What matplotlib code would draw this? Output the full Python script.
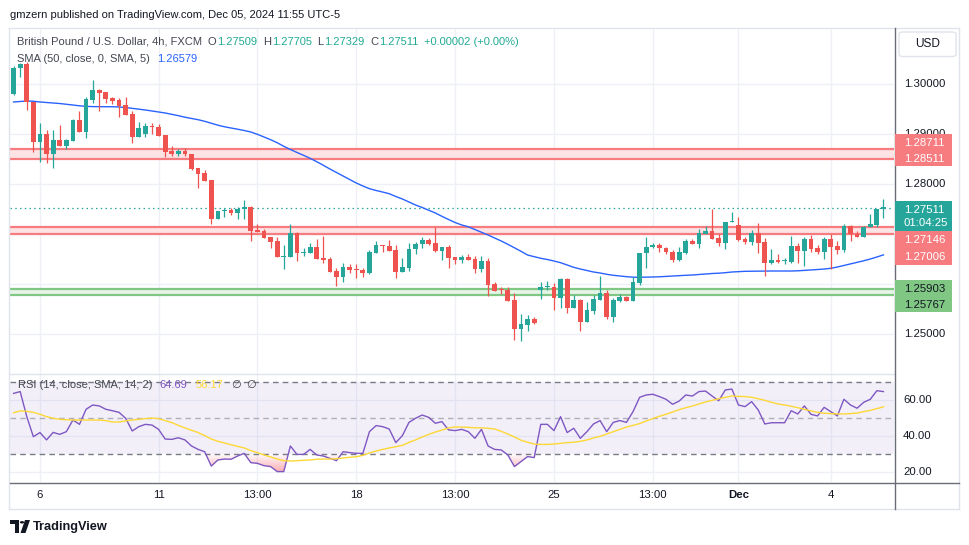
import matplotlib
matplotlib.use("Agg")
import matplotlib.pyplot as plt
import numpy as np
from matplotlib.patches import Rectangle, FancyBboxPatch, Polygon, Circle
from matplotlib.lines import Line2D
from matplotlib.colors import to_rgb
from matplotlib.path import Path

plt.rcParams['font.family'] = ['Liberation Sans', 'DejaVu Sans']

# ---------------- data ----------------
opens = [1.29803, 1.30325, 1.30406, 1.29649, 1.28851, 1.29006, 1.28604, 1.28886, 1.28771, 1.28872,
         1.29287, 1.29052, 1.29689, 1.29890, 1.29855, 1.29735, 1.29689, 1.29588, 1.29402, 1.28952,
         1.29006, 1.29167, 1.29141, 1.28986, 1.28665, 1.28604, 1.28665, 1.28604, 1.28317, 1.28217,
         1.28082, 1.27299, 1.27460, 1.27486, 1.27410, 1.27496, 1.27540, 1.27078, 1.27058, 1.26932,
         1.26857, 1.26542, 1.26542, 1.27012, 1.26623, 1.26623, 1.26731, 1.26516, 1.26496, 1.26255,
         1.26141, 1.26341, 1.26295, 1.26275, 1.26221, 1.26623, 1.26771, 1.26757, 1.26677, 1.26241,
         1.26321, 1.26691, 1.26791, 1.26878, 1.26811, 1.26663, 1.26731, 1.26536, 1.26482, 1.26536,
         1.26496, 1.26301, 1.26456, 1.25994, 1.25880, 1.25874, 1.25673, 1.25090, 1.25171, 1.25291,
         1.25880, 1.25928, 1.25934, 1.25719, 1.26094, 1.25518, 1.25673, 1.25237, 1.25458, 1.25673,
         1.25807, 1.25337, 1.25659, 1.25739, 1.25659, 1.26020, 1.26611, 1.26731, 1.26777, 1.26723,
         1.26631, 1.26476, 1.26623, 1.26857, 1.26803, 1.27004, 1.27058, 1.26918, 1.26823, 1.27233,
         1.27173, 1.26898, 1.26843, 1.27012, 1.26837, 1.26422, 1.26476, 1.26456, 1.26442, 1.26757,
         1.26663, 1.26898, 1.26717, 1.26643, 1.26898, 1.26757, 1.26683, 1.27159, 1.27004, 1.26938,
         1.27133, 1.27185, 1.27509]
highs = [1.30371, 1.30432, 1.30452, 1.29649, 1.29221, 1.29086, 1.29086, 1.29187, 1.28906, 1.29317,
         1.29468, 1.29743, 1.30090, 1.29900, 1.29859, 1.29755, 1.29735, 1.29743, 1.29468, 1.29241,
         1.29233, 1.29221, 1.29201, 1.28986, 1.28765, 1.28699, 1.28719, 1.28604, 1.28317, 1.28283,
         1.28092, 1.27460, 1.27514, 1.27526, 1.27534, 1.27681, 1.27560, 1.27199, 1.27098, 1.26932,
         1.26932, 1.26777, 1.27199, 1.27038, 1.26723, 1.26811, 1.26898, 1.26958, 1.26542, 1.26309,
         1.26410, 1.26390, 1.26390, 1.26309, 1.26677, 1.26857, 1.26771, 1.26878, 1.26777, 1.26522,
         1.26811, 1.26843, 1.26944, 1.26912, 1.27133, 1.26731, 1.26777, 1.26536, 1.26576, 1.26596,
         1.26556, 1.26556, 1.26522, 1.26028, 1.25940, 1.25928, 1.25807, 1.25392, 1.25372, 1.25325,
         1.26040, 1.26054, 1.26020, 1.26121, 1.26108, 1.25773, 1.25687, 1.25627, 1.25773, 1.26161,
         1.25874, 1.25719, 1.25793, 1.25759, 1.26141, 1.26617, 1.26932, 1.26823, 1.26811, 1.26743,
         1.26677, 1.26731, 1.26898, 1.26898, 1.27092, 1.27159, 1.27494, 1.26998, 1.27233, 1.27446,
         1.27333, 1.26944, 1.27078, 1.27225, 1.26912, 1.26697, 1.26596, 1.26522, 1.26958, 1.26811,
         1.26944, 1.26978, 1.26771, 1.26932, 1.26998, 1.26857, 1.27199, 1.27173, 1.27058, 1.27159,
         1.27400, 1.27500, 1.27705]
lows = [1.29789, 1.30157, 1.29478, 1.28639, 1.28450, 1.28418, 1.28329, 1.28771, 1.28699, 1.28872,
        1.29052, 1.28920, 1.29635, 1.29474, 1.29635, 1.29608, 1.29353, 1.29388, 1.28831, 1.28952,
        1.28952, 1.29006, 1.28972, 1.28550, 1.28570, 1.28570, 1.28564, 1.28283, 1.27928, 1.28062,
        1.27193, 1.27299, 1.27345, 1.27380, 1.27293, 1.27299, 1.26863, 1.27044, 1.26924, 1.26723,
        1.26542, 1.26289, 1.26542, 1.26462, 1.26556, 1.26623, 1.26490, 1.26410, 1.26241, 1.25960,
        1.26040, 1.26209, 1.26121, 1.26141, 1.26189, 1.26623, 1.26643, 1.26663, 1.26121, 1.26241,
        1.26255, 1.26590, 1.26711, 1.26777, 1.26643, 1.26476, 1.26309, 1.26396, 1.26422, 1.26482,
        1.26221, 1.26241, 1.25759, 1.25860, 1.25793, 1.25659, 1.24870, 1.24856, 1.25050, 1.25191,
        1.25693, 1.25874, 1.25472, 1.25518, 1.25418, 1.25518, 1.25056, 1.25237, 1.25386, 1.25673,
        1.25291, 1.25237, 1.25639, 1.25659, 1.25659, 1.25974, 1.26321, 1.26711, 1.26643, 1.26590,
        1.26442, 1.26462, 1.26602, 1.26803, 1.26723, 1.27004, 1.26904, 1.26763, 1.26703, 1.27233,
        1.26857, 1.26803, 1.26777, 1.26623, 1.26161, 1.26396, 1.26422, 1.26390, 1.26422, 1.26422,
        1.26355, 1.26643, 1.26590, 1.26496, 1.26289, 1.26602, 1.26631, 1.26863, 1.26938, 1.26938,
        1.27133, 1.27145, 1.27329]
closes = [1.30325, 1.30406, 1.29649, 1.28851, 1.29006, 1.28604, 1.28886, 1.28771, 1.28886, 1.29287,
          1.29052, 1.29709, 1.29890, 1.29835, 1.29715, 1.29675, 1.29568, 1.29388, 1.28952, 1.29133,
          1.29167, 1.29141, 1.28972, 1.28651, 1.28610, 1.28665, 1.28598, 1.28303, 1.28209, 1.28062,
          1.27299, 1.27460, 1.27486, 1.27410, 1.27496, 1.27540, 1.27064, 1.27044, 1.26924, 1.26843,
          1.26542, 1.26556, 1.27012, 1.26623, 1.26637, 1.26731, 1.26502, 1.26476, 1.26241, 1.26141,
          1.26329, 1.26275, 1.26281, 1.26221, 1.26631, 1.26777, 1.26757, 1.26663, 1.26241, 1.26329,
          1.26691, 1.26797, 1.26878, 1.26797, 1.26663, 1.26731, 1.26522, 1.26482, 1.26536, 1.26482,
          1.26301, 1.26456, 1.25974, 1.25860, 1.25868, 1.25659, 1.25090, 1.25191, 1.25291, 1.25205,
          1.25934, 1.25940, 1.25719, 1.26094, 1.25518, 1.25673, 1.25237, 1.25472, 1.25693, 1.25807,
          1.25337, 1.25673, 1.25739, 1.25659, 1.26028, 1.26617, 1.26731, 1.26777, 1.26711, 1.26631,
          1.26476, 1.26631, 1.26857, 1.26803, 1.27012, 1.27058, 1.26904, 1.26823, 1.27233, 1.27265,
          1.26878, 1.26843, 1.27012, 1.26823, 1.26422, 1.26476, 1.26442, 1.26470, 1.26757, 1.26663,
          1.26898, 1.26697, 1.26643, 1.26898, 1.26743, 1.26683, 1.27159, 1.26992, 1.26938, 1.27133,
          1.27199, 1.27500, 1.27511]
sma50 = [1.29649, 1.29659, 1.29669, 1.29663, 1.29649, 1.29639, 1.29629, 1.29618, 1.29604, 1.29588,
         1.29572, 1.29562, 1.29556, 1.29554, 1.29554, 1.29554, 1.29548, 1.29538, 1.29522, 1.29504,
         1.29488, 1.29468, 1.29448, 1.29428, 1.29402, 1.29374, 1.29343, 1.29317, 1.29293, 1.29261,
         1.29221, 1.29183, 1.29151, 1.29127, 1.29102, 1.29076, 1.29046, 1.29000, 1.28946, 1.28892,
         1.28831, 1.28759, 1.28695, 1.28635, 1.28578, 1.28518, 1.28450, 1.28378, 1.28303, 1.28233,
         1.28163, 1.28092, 1.28022, 1.27962, 1.27908, 1.27872, 1.27841, 1.27807, 1.27751, 1.27701,
         1.27641, 1.27580, 1.27530, 1.27474, 1.27420, 1.27353, 1.27289, 1.27229, 1.27179, 1.27143,
         1.27088, 1.27032, 1.26978, 1.26918, 1.26857, 1.26791, 1.26721, 1.26651, 1.26576, 1.26542,
         1.26510, 1.26486, 1.26456, 1.26422, 1.26376, 1.26329, 1.26295, 1.26265, 1.26235, 1.26215,
         1.26189, 1.26169, 1.26155, 1.26141, 1.26131, 1.26129, 1.26131, 1.26135, 1.26139, 1.26147,
         1.26155, 1.26161, 1.26169, 1.26175, 1.26185, 1.26195, 1.26205, 1.26211, 1.26221, 1.26235,
         1.26243, 1.26249, 1.26251, 1.26253, 1.26255, 1.26255, 1.26255, 1.26255, 1.26255, 1.26259,
         1.26267, 1.26275, 1.26285, 1.26295, 1.26309, 1.26335, 1.26366, 1.26396, 1.26426, 1.26460,
         1.26496, 1.26536, 1.26579]
rsi = [63.7, 64.7, 50.7, 39.5, 41.8, 37.7, 41.9, 40.8, 42.3, 48.8,
       46.4, 54.8, 57.2, 56.7, 54.8, 54.0, 53.1, 49.8, 42.7, 45.1,
       46.4, 46.0, 43.6, 38.2, 38.0, 38.9, 37.7, 34.3, 32.4, 31.1,
       23.1, 26.5, 27.0, 26.9, 28.7, 30.2, 25.0, 24.6, 23.3, 22.8,
       20.0, 20.0, 34.3, 29.6, 29.6, 32.4, 29.3, 28.7, 27.4, 26.1,
       31.1, 30.6, 30.2, 30.2, 42.3, 45.7, 45.1, 43.8, 36.2, 40.1,
       47.5, 49.8, 51.6, 50.3, 47.0, 47.9, 43.3, 42.9, 43.6, 42.3,
       38.6, 43.6, 34.3, 32.4, 32.1, 29.3, 22.8, 25.6, 28.4, 27.8,
       46.4, 46.4, 42.9, 50.7, 41.8, 44.2, 38.6, 42.3, 46.6, 48.5,
       42.3, 47.5, 48.5, 47.5, 53.5, 61.5, 62.8, 63.2, 61.9, 60.4,
       57.6, 59.4, 62.8, 62.2, 64.7, 65.0, 62.2, 59.6, 65.6, 66.1,
       57.2, 56.3, 59.1, 54.4, 46.6, 47.3, 47.3, 47.3, 54.0, 52.2,
       56.7, 52.0, 51.1, 55.9, 53.5, 51.1, 60.4, 57.2, 55.4, 58.7,
       60.4, 65.2, 64.69]
rsi_ma = [52.9, 53.9, 53.7, 53.1, 52.0, 50.7, 49.8, 49.2, 49.0, 48.8,
          48.8, 48.8, 48.8, 48.8, 48.5, 47.7, 47.7, 48.3, 48.8, 49.2,
          49.6, 49.9, 49.6, 48.5, 47.4, 45.8, 44.4, 43.1, 41.8, 40.1,
          38.2, 36.9, 36.0, 35.0, 34.1, 33.2, 31.7, 30.6, 29.3, 28.2,
          27.0, 26.1, 25.9, 26.1, 26.3, 26.5, 26.9, 27.0, 27.0, 27.2,
          27.6, 28.0, 28.3, 29.1, 30.4, 31.5, 32.4, 33.2, 33.9, 34.7,
          36.3, 37.7, 39.3, 40.8, 42.1, 43.2, 44.4, 44.9, 44.9, 44.7,
          44.5, 44.4, 44.2, 43.8, 42.5, 41.0, 39.3, 37.5, 36.4, 35.4,
          35.2, 35.2, 35.4, 35.8, 36.2, 36.4, 36.9, 37.7, 38.8, 39.7,
          41.0, 42.3, 43.6, 44.9, 45.8, 46.8, 48.3, 49.6, 50.9, 52.0,
          53.3, 54.6, 55.7, 56.6, 57.8, 58.9, 59.8, 60.7, 61.5, 62.2,
          62.0, 61.9, 61.5, 60.7, 59.8, 58.7, 57.8, 57.2, 56.5, 55.7,
          54.8, 53.9, 53.1, 52.6, 52.4, 52.2, 52.2, 52.4, 52.7, 53.5,
          54.2, 55.2, 56.17]

time_tick_idx = [4, 22, 37, 52, 67, 82, 97, 110, 124]
time_tick_labels = ["6", "11", "13:00", "18", "13:00", "25", "13:00", "Dec", "4"]
price_ticks = [1.25, 1.26, 1.27, 1.28, 1.29, 1.30]
rsi_ticks = [20, 40, 60]
resist_upper = [1.28711, 1.28511]
resist_lower = [1.27146, 1.27006]
support = [1.25903, 1.25767]
last_price = 1.27511
countdown = "01:04:25"

# ---------------- layout ----------------
W, H = 970, 545
fig = plt.figure(figsize=(W / 100, H / 100), dpi=100)
fig.patch.set_facecolor('white')

def fx(px):
    return px / W

def fy(py):
    return 1 - py / H

L, R = 10, 894
T_MAIN, B_MAIN, B_RSI = 28, 373, 482

ax = fig.add_axes([fx(L), fy(B_MAIN), fx(R) - fx(L), fy(T_MAIN) - fy(B_MAIN)])
axr = fig.add_axes([fx(L), fy(B_RSI), fx(R) - fx(L), fy(B_MAIN) - fy(B_RSI)])

n = len(closes)
idx = np.arange(n)
XLIM = (-0.546, 133.6)
for a in (ax, axr):
    a.set_xlim(*XLIM)
    a.set_facecolor('none')
    for s in a.spines.values():
        s.set_visible(False)
    a.set_yticks([])
ax.set_xticks([])
ax.set_ylim(1.24207, 1.311345)
axr.set_ylim(14.19, 75.08)

GRID = '#eef0f5'
for i in time_tick_idx:
    ax.axvline(i, color=GRID, lw=1, zorder=0)
    axr.axvline(i, color=GRID, lw=1, zorder=0)
for p in price_ticks:
    ax.axhline(p, color=GRID, lw=1, zorder=0)
for v in rsi_ticks:
    axr.axhline(v, color=GRID, lw=1, zorder=0)

# bands
RED_LINE = '#f77c80'
GREEN_LINE = '#81c784'
for top, bot, lc, fc in [(resist_upper[0], resist_upper[1], RED_LINE, '#fde3e4'),
                         (resist_lower[0], resist_lower[1], RED_LINE, '#fde3e4'),
                         (support[0], support[1], GREEN_LINE, '#e6f4e7')]:
    ax.axhspan(bot, top, color=fc, lw=0, zorder=1)
    ax.axhline(top, color=lc, lw=1.6, zorder=1.5)
    ax.axhline(bot, color=lc, lw=1.6, zorder=1.5)

# current price dotted line
ax.axhline(last_price, color='#26a69a', lw=0.9, ls=(0, (1.2, 2.6)), zorder=2)

# SMA
ax.plot(idx, sma50, color='#2962ff', lw=1.0, zorder=3)

# candles
o = np.array(opens); h = np.array(highs); l = np.array(lows); c = np.array(closes)
up = c >= o
cols = np.where(up, '#26a69a', '#ef5350')
ax.vlines(idx, l, h, colors=cols, lw=0.9, zorder=4)
body_lo = np.minimum(o, c)
body_h = np.maximum(np.abs(c - o), 0.00022)
ax.bar(idx, body_h, bottom=body_lo, width=0.72, color=cols, linewidth=0, zorder=5)

# RSI pane
axr.axhspan(30, 70, color='#7e57c2', alpha=0.09, lw=0, zorder=0.5)
axr.axhline(70, color='#787b86', lw=1, ls=(0, (4, 3)), zorder=2)
axr.axhline(50, color='#787b86', lw=1, ls=(0, (4, 3)), alpha=0.55, zorder=2)
axr.axhline(30, color='#787b86', lw=1, ls=(0, (4, 3)), zorder=2)
r = np.array(rsi)
fb = axr.fill_between(idx, r, 30, where=r < 30, interpolate=True, facecolor='none', edgecolor='none')
paths = fb.get_paths()
if len(paths) > 0:
    comp = Path.make_compound_path(*paths)
    N = 256
    vals = np.linspace(30, 14, N)
    rgba = np.zeros((N, 1, 4))
    rr, gg, bb = to_rgb('#f23645')
    rgba[:, 0, 0] = rr; rgba[:, 0, 1] = gg; rgba[:, 0, 2] = bb
    rgba[:, 0, 3] = np.clip((30 - vals) / 10 * 0.40, 0, 0.5)
    im = axr.imshow(rgba, extent=(XLIM[0], XLIM[1], 14, 30), aspect='auto',
                    origin='upper', zorder=1.5, interpolation='bilinear')
    im.set_clip_path(comp, axr.transData)
axr.plot(idx, rsi, color='#7e57c2', lw=1.0, zorder=3)
axr.plot(idx, rsi_ma, color='#fdd835', lw=1.0, zorder=3)
axr.set_xlim(*XLIM)
axr.set_ylim(14.19, 75.08)

axr.set_xticks(time_tick_idx)
axr.set_xticklabels(time_tick_labels)
axr.tick_params(axis='x', length=0, pad=5.5, labelsize=8.2, colors='#131722')
for lbl in axr.get_xticklabels():
    if lbl.get_text() == 'Dec':
        lbl.set_fontweight('bold')

# ---------------- frame lines ----------------
def fline(x1, y1, x2, y2, color, lw=1.0):
    fig.add_artist(Line2D([fx(x1), fx(x2)], [fy(y1), fy(y2)], transform=fig.transFigure,
                          color=color, lw=lw, zorder=10))

FRAME = '#e0e3eb'
fline(9.5, 27.5, 959.5, 27.5, FRAME)
fline(9.5, 27.5, 9.5, 508.5, FRAME)
fline(959.5, 27.5, 959.5, 508.5, FRAME)
fline(9.5, 508.5, 959.5, 508.5, FRAME)
fline(10, 373.5, 894, 373.5, FRAME)
fline(894.5, 27.5, 894.5, 508.5, '#6a6d78')
fline(10, 482.5, 959.5, 482.5, '#6a6d78')

# ---------------- price axis labels ----------------
def disp_y(a, v):
    return a.transData.transform((0, v))[1]

TXT = '#131722'

groups = [
    ([(f"{resist_upper[0]:.5f}", resist_upper[0], 5.2), (f"{resist_upper[1]:.5f}", resist_upper[1], -0.8)],
     RED_LINE, 'white', 9.0, 6.5),
    ([(f"{last_price:.5f}", last_price, -1.1), (countdown, last_price, -14.1)], '#26a69a', 'white', 9.0, 9.0),
    ([(f"{resist_lower[0]:.5f}", resist_lower[0], -13.6), (f"{resist_lower[1]:.5f}", resist_lower[1], -23.6)],
     RED_LINE, 'white', 9.0, 8.0),
    ([(f"{support[0]:.5f}", support[0], 0.0), (f"{support[1]:.5f}", support[1], -10.0)], GREEN_LINE, TXT, 9.0, 6.5),
]
box_spans = []
for k, (items, fc, tc, pad_top, pad_bot) in enumerate(groups):
    centers = [disp_y(ax, v) + off for (_, v, off) in items]
    top = centers[0] + pad_top
    bot = centers[-1] - pad_bot
    box_spans.append((bot, top))
    fig.add_artist(Rectangle((fx(894.7), bot / H), 57 / W, (top - bot) / H,
                             transform=fig.transFigure, facecolor=fc, edgecolor='none', zorder=12 + k))
    for (txt, v, off), cy in zip(items, centers):
        fig.text(fx(904), cy / H, txt, fontsize=8.2, color=tc, ha='left', va='center', zorder=13 + k)

# regular price ticks: skip if hidden by a label box, clip if partly covered
for p in price_ticks:
    cy = disp_y(ax, p)
    lo_vis, hi_vis = cy - 8, cy + 8
    hidden = False
    for bot, top in box_spans:
        if bot <= cy <= top:
            hidden = True
        elif cy - 8 < top < cy:
            lo_vis = max(lo_vis, top)
        elif cy < bot < cy + 8:
            hi_vis = min(hi_vis, bot)
    if hidden:
        continue
    t = fig.text(fx(904), cy / H, f"{p:.5f}", fontsize=8.2, color=TXT, ha='left', va='center', zorder=11)
    if lo_vis > cy - 8 or hi_vis < cy + 8:
        clip = Rectangle((fx(895), lo_vis / H), 60 / W, (hi_vis - lo_vis) / H,
                         transform=fig.transFigure, facecolor='none', edgecolor='none')
        t.set_clip_on(True)
        t.set_clip_path(clip)

for v in rsi_ticks:
    fig.text(fx(903), disp_y(axr, v) / H, f"{v:.2f}", fontsize=8.2, color=TXT,
             ha='left', va='center', zorder=11)

# USD box
fig.add_artist(FancyBboxPatch((fx(899), fy(56.5)), 57 / W, 24.5 / H,
                              boxstyle="round,pad=0,rounding_size=0.004",
                              transform=fig.transFigure, facecolor='white',
                              edgecolor='#e0e3eb', lw=1, zorder=12))
fig.text(fx(927.5), fy(44), "USD", fontsize=8.6, color=TXT, ha='center', va='center', zorder=13)

# ---------------- texts ----------------
renderer = fig.canvas.get_renderer()

def seq_text(x_px, y_px, pieces, size=8.0):
    x = x_px
    for txt, color, gap in pieces:
        t = fig.text(fx(x), fy(y_px), txt, color=color, fontsize=size, ha='left', va='center', zorder=20)
        bbx = t.get_window_extent(renderer)
        x += bbx.width + gap

fig.text(fx(10), fy(14.5), "gmzern published on TradingView.com, Dec 05, 2024 11:55 UTC-5",
         fontsize=8.0, color=TXT, ha='left', va='center')

GRAY = '#434651'
TEAL = '#22ab94'
seq_text(17, 42, [("British Pound / U.S. Dollar, 4h, FXCM", GRAY, 6),
                  ("O", GRAY, 0.5), (f"{opens[-1]:.5f}", TEAL, 6),
                  ("H", GRAY, 0.5), (f"{highs[-1]:.5f}", TEAL, 6),
                  ("L", GRAY, 0.5), (f"{lows[-1]:.5f}", TEAL, 6),
                  ("C", GRAY, 0.5), (f"{closes[-1]:.5f}", TEAL, 6),
                  ("+0.00002 (+0.00%)", TEAL, 0)])
seq_text(17, 59, [("SMA (50, close, 0, SMA, 5)", GRAY, 7), (f"{sma50[-1]:.5f}", '#2962ff', 0)])
seq_text(18, 385, [("RSI (14, close, SMA, 14, 2)", GRAY, 7), (f"{rsi[-1]:.2f}", '#7e57c2', 8),
                   (f"{rsi_ma[-1]:.2f}", '#fdd835', 8), ("\u2205", GRAY, 5), ("\u2205", GRAY, 0)])

# TradingView logo
def fpt(x, y):
    return (fx(x), fy(y))

fig.add_artist(Polygon([fpt(10, 520), fpt(19, 520), fpt(19, 533), fpt(15, 533), fpt(15, 524), fpt(10, 524)],
                       closed=True, transform=fig.transFigure, facecolor=TXT, edgecolor='none'))
fig.add_artist(Circle(fpt(22, 522.3), 2.2 / W, transform=fig.transFigure, facecolor=TXT, edgecolor='none'))
fig.add_artist(Polygon([fpt(25, 520), fpt(30, 520), fpt(25.5, 533), fpt(20.5, 533)],
                       closed=True, transform=fig.transFigure, facecolor=TXT, edgecolor='none'))
fig.text(fx(33), fy(527), "TradingView", fontsize=9.2, fontweight='bold', color=TXT, ha='left', va='center')

fig.savefig("out.png", dpi=100, facecolor='white')
